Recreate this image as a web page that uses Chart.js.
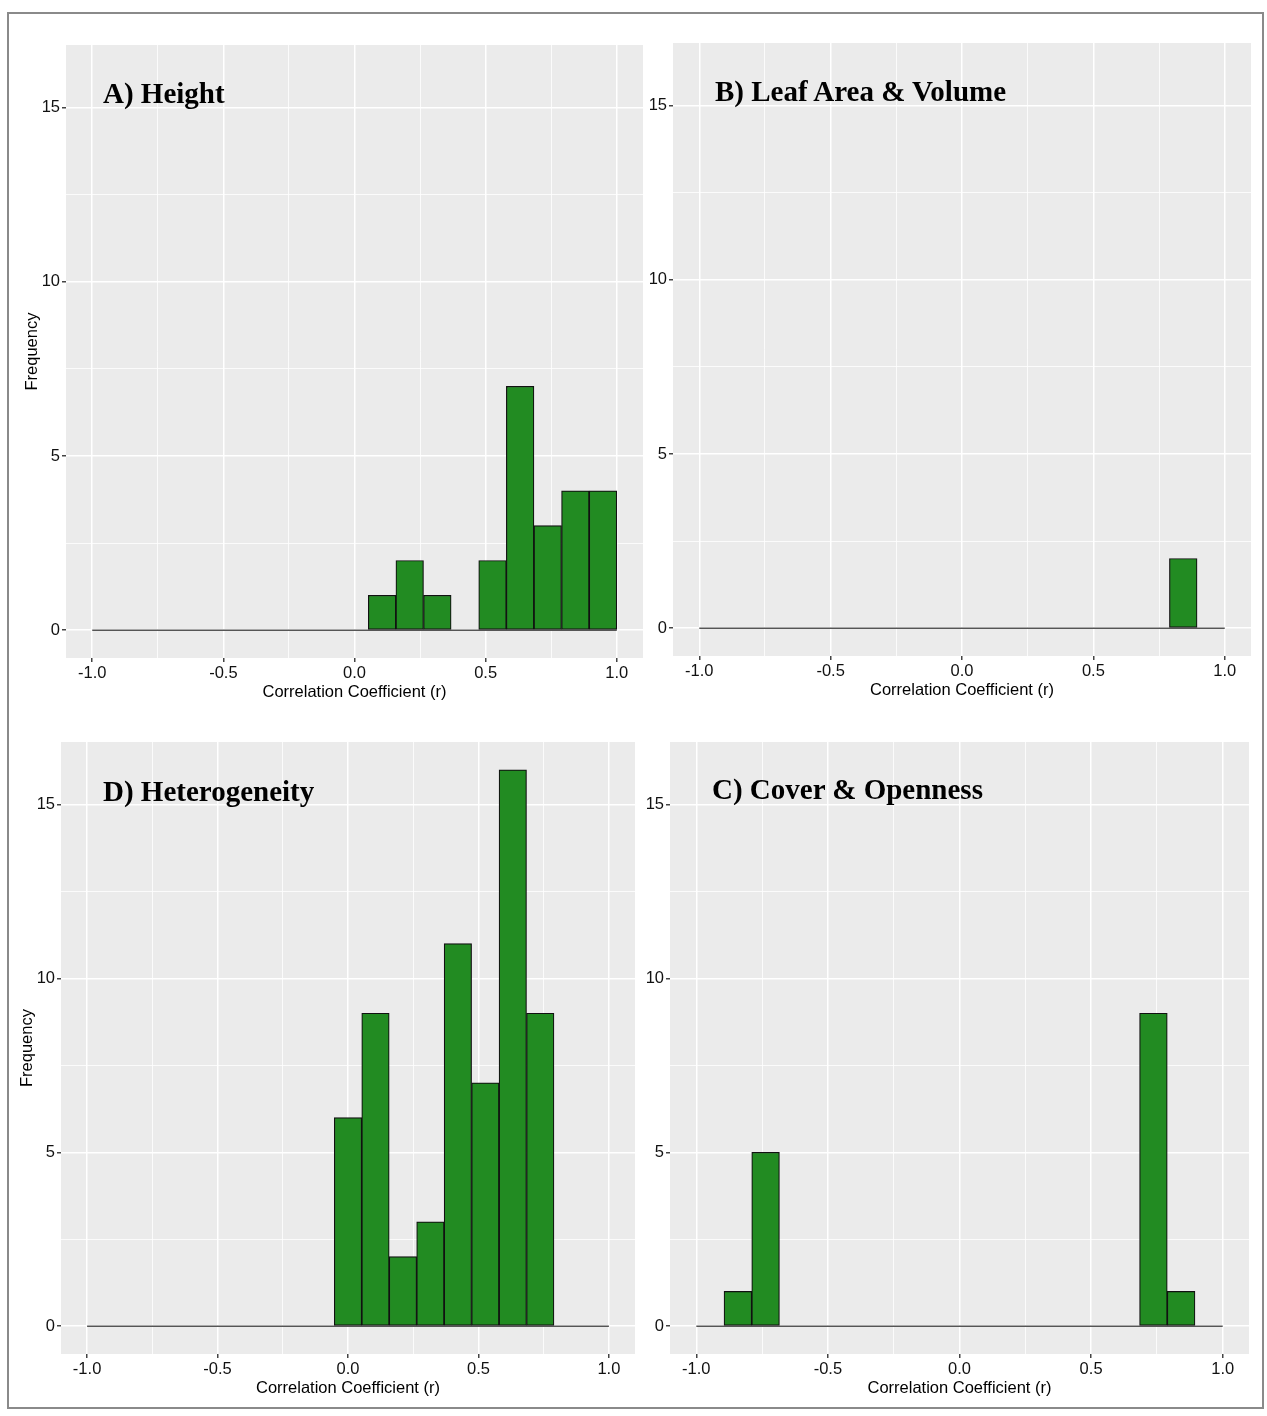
<!DOCTYPE html>
<html>
<head>
<meta charset="utf-8">
<title>Correlation coefficient histograms</title>
<script src="https://cdn.jsdelivr.net/npm/chart.js@4/dist/chart.umd.min.js"></script>
<style>
  html, body { margin: 0; padding: 0; background: #ffffff; }
  #page { position: relative; width: 1267px; height: 1416px; }
  #frame {
    position: absolute; left: 7px; top: 12px; width: 1257px; height: 1397px;
    box-sizing: border-box; border: 2px solid #8a8a8a;
  }
  canvas { position: absolute; }
  .panel-title {
    position: absolute; font-family: "Liberation Serif", "Times New Roman", serif;
    font-weight: bold; font-size: 29px; line-height: 29px; color: #000; white-space: nowrap;
  }
</style>
</head>
<body>
<div id="page">
  <div id="frame"></div>
  <canvas id="cA" width="640" height="700" style="left:10px;top:20px;"></canvas>
  <canvas id="cB" width="612" height="700" style="left:650px;top:20px;"></canvas>
  <canvas id="cD" width="632" height="680" style="left:10px;top:720px;"></canvas>
  <canvas id="cC" width="617" height="680" style="left:645px;top:720px;"></canvas>
  <div class="panel-title" style="left:103px;top:79px;">A) Height</div>
  <div class="panel-title" style="left:715px;top:77px;">B) Leaf Area &amp; Volume</div>
  <div class="panel-title" style="left:103px;top:777px;">D) Heterogeneity</div>
  <div class="panel-title" style="left:712px;top:775px;">C) Cover &amp; Openness</div>
</div>
<script>
// Histogram bins: 19 equal-width bins spanning r = -1 to 1 (centres listed)
const binCentres = [-0.9474, -0.8421, -0.7368, -0.6316, -0.5263, -0.4211, -0.3158, -0.2105, -0.1053,
                    0.0, 0.1053, 0.2105, 0.3158, 0.4211, 0.5263, 0.6316, 0.7368, 0.8421, 0.9474];

// Counts per bin for each trait group
const heightCounts        = [0, 0, 0, 0, 0, 0, 0, 0, 0, 0, 1, 2, 1, 0, 2, 7, 3, 4, 4];
const leafAreaCounts      = [0, 0, 0, 0, 0, 0, 0, 0, 0, 0, 0, 0, 0, 0, 0, 0, 0, 2, 0];
const heterogeneityCounts = [0, 0, 0, 0, 0, 0, 0, 0, 0, 6, 9, 2, 3, 11, 7, 16, 9, 0, 0];
const coverCounts         = [0, 1, 5, 0, 0, 0, 0, 0, 0, 0, 0, 0, 0, 0, 0, 0, 9, 1, 0];

// Axis ticks: major values carry labels, the in-between values are minor grid lines
const xMajorTicks = [-1, -0.5, 0, 0.5, 1];
const xTickLabels = ['-1.0', '-0.5', '0.0', '0.5', '1.0'];
const xMinorTicks = [-0.75, -0.25, 0.25, 0.75];
const yMajorTicks = [0, 5, 10, 15];
const yTickLabels = ['0', '5', '10', '15'];
const yMinorTicks = [2.5, 7.5, 12.5];

// Baseline of the histogram (zero-count bins), spanning the full r range
const baselineRange = [-1, 1];

const xAxisTitle = 'Correlation Coefficient (r)';
const yAxisTitle = 'Frequency';

const FILL = '#228B22';
const PANEL_BG = '#EBEBEB';
const TICK_FONT = { family: '"Liberation Sans", Arial, sans-serif', size: 16.5 };

const panelBackground = {
  id: 'panelBackground',
  beforeDraw(chart) {
    const { ctx, chartArea: a } = chart;
    ctx.save();
    ctx.fillStyle = PANEL_BG;
    ctx.fillRect(a.left, a.top, a.right - a.left, a.bottom - a.top);
    ctx.restore();
  }
};

function isMajor(list, c) {
  if (!c || !c.tick) return false;
  return list.some(t => Math.abs(t - c.tick.value) < 1e-9);
}

function labelFor(majors, labels, v) {
  const k = majors.findIndex(t => Math.abs(t - v) < 1e-9);
  return k >= 0 ? labels[k] : '';
}

function makePanel(id, counts, opt) {
  const xTicks = xMajorTicks.concat(xMinorTicks).sort((a, b) => a - b);
  const yTicks = yMajorTicks.concat(yMinorTicks).sort((a, b) => a - b);
  new Chart(document.getElementById(id), {
    type: 'bar',
    data: {
      datasets: [
        {
          type: 'bar',
          data: binCentres.map((c, i) => ({ x: c, y: counts[i] })),
          backgroundColor: FILL,
          borderColor: '#111111',
          borderWidth: 1.2,
          borderSkipped: false,
          barPercentage: 1,
          categoryPercentage: 1,
          order: 1
        },
        {
          type: 'line',
          data: baselineRange.map(x => ({ x: x, y: 0 })),
          borderColor: '#555555',
          borderWidth: 1.5,
          pointRadius: 0,
          fill: false,
          order: 2
        }
      ]
    },
    options: {
      responsive: false,
      animation: false,
      events: [],
      layout: { padding: opt.padding },
      plugins: { legend: { display: false }, tooltip: { enabled: false }, title: { display: false } },
      scales: {
        x: {
          type: 'linear',
          min: -1.1,
          max: 1.1,
          offset: false,
          afterBuildTicks: s => { s.ticks = xTicks.map(v => ({ value: v })); },
          afterFit: s => { s.height = opt.xHeight; },
          border: { display: false },
          grid: {
            offset: false,
            color: '#ffffff',
            lineWidth: c => isMajor(xMajorTicks, c) ? 1.5 : 0.8,
            tickColor: c => isMajor(xMajorTicks, c) ? '#444444' : 'rgba(0,0,0,0)',
            tickLength: 4,
            drawTicks: true
          },
          ticks: {
            autoSkip: false,
            maxRotation: 0,
            padding: 2,
            color: '#111111',
            font: TICK_FONT,
            callback: v => labelFor(xMajorTicks, xTickLabels, v)
          },
          title: {
            display: true,
            text: xAxisTitle,
            color: '#000000',
            font: TICK_FONT,
            padding: { top: 0, bottom: opt.xTitlePad }
          }
        },
        y: {
          type: 'linear',
          min: -0.8,
          max: 16.8,
          afterBuildTicks: s => { s.ticks = yTicks.map(v => ({ value: v })); },
          afterFit: s => { s.width = opt.yWidth; },
          border: { display: false },
          grid: {
            offset: false,
            color: '#ffffff',
            lineWidth: c => isMajor(yMajorTicks, c) ? 1.5 : 0.8,
            tickColor: c => isMajor(yMajorTicks, c) ? '#444444' : 'rgba(0,0,0,0)',
            tickLength: 4,
            drawTicks: true
          },
          ticks: {
            autoSkip: false,
            padding: 2,
            color: '#111111',
            font: TICK_FONT,
            callback: v => labelFor(yMajorTicks, yTickLabels, v)
          },
          title: {
            display: opt.yTitle,
            text: yAxisTitle,
            color: '#000000',
            font: TICK_FONT,
            padding: { top: opt.yTitlePad, bottom: 0 }
          }
        }
      }
    },
    plugins: [panelBackground]
  });
}

makePanel('cA', heightCounts,        { padding: { top: 25, right: 7,  left: 0, bottom: 0 }, yWidth: 56, xHeight: 62, yTitle: true,  yTitlePad: 13, xTitlePad: 18 });
makePanel('cB', leafAreaCounts,      { padding: { top: 23, right: 11, left: 0, bottom: 0 }, yWidth: 23, xHeight: 64, yTitle: false, yTitlePad: 0,  xTitlePad: 20 });
makePanel('cD', heterogeneityCounts, { padding: { top: 22, right: 7,  left: 0, bottom: 0 }, yWidth: 51, xHeight: 46, yTitle: true,  yTitlePad: 8,  xTitlePad: 2 });
makePanel('cC', coverCounts,         { padding: { top: 22, right: 13, left: 0, bottom: 0 }, yWidth: 25, xHeight: 46, yTitle: false, yTitlePad: 0,  xTitlePad: 2 });
</script>
</body>
</html>
